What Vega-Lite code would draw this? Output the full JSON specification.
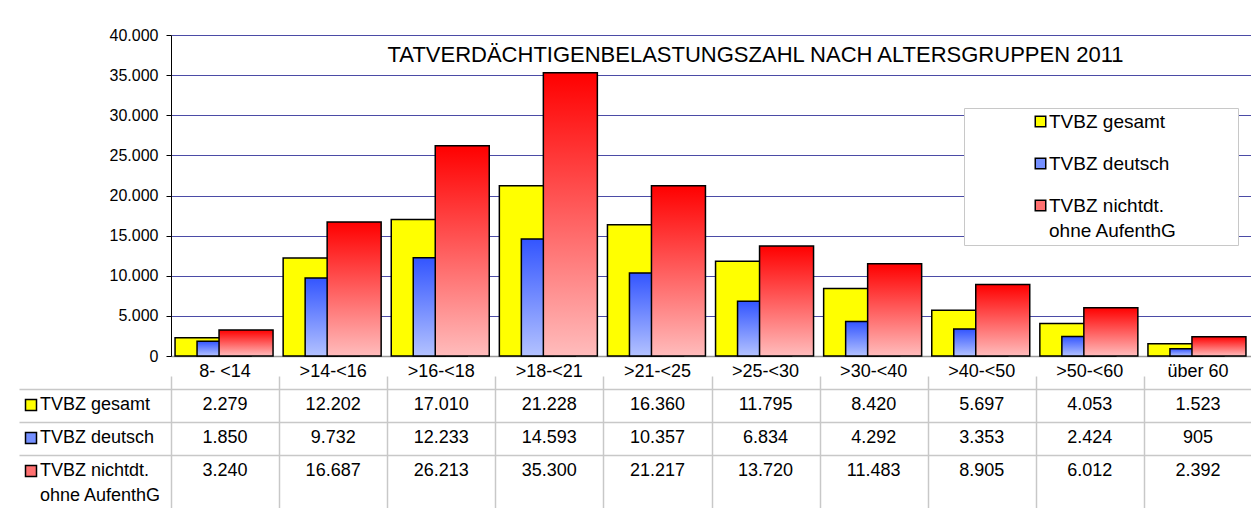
{
  "$schema": "https://vega.github.io/schema/vega-lite/v6.json",
  "padding": {"left": 18, "top": 27, "right": 0, "bottom": 0},
  "background": "white",
  "spacing": 0,
  "bounds": "flush",
  "resolve": {"scale": {"color": "independent"}, "legend": {"color": "independent"}},
  "datasets": {
    "tvbz": [
      {"age": "8- <14", "gesamt": 2279, "deutsch": 1850, "nichtdt": 3240},
      {"age": ">14-<16", "gesamt": 12202, "deutsch": 9732, "nichtdt": 16687},
      {"age": ">16-<18", "gesamt": 17010, "deutsch": 12233, "nichtdt": 26213},
      {"age": ">18-<21", "gesamt": 21228, "deutsch": 14593, "nichtdt": 35300},
      {"age": ">21-<25", "gesamt": 16360, "deutsch": 10357, "nichtdt": 21217},
      {"age": ">25-<30", "gesamt": 11795, "deutsch": 6834, "nichtdt": 13720},
      {"age": ">30-<40", "gesamt": 8420, "deutsch": 4292, "nichtdt": 11483},
      {"age": ">40-<50", "gesamt": 5697, "deutsch": 3353, "nichtdt": 8905},
      {"age": ">50-<60", "gesamt": 4053, "deutsch": 2424, "nichtdt": 6012},
      {"age": "über 60", "gesamt": 1523, "deutsch": 905, "nichtdt": 2392}
    ]
  },
  "config": {
    "locale": {"number": {"decimal": ",", "thousands": ".", "grouping": [3], "currency": ["", " €"]}},
    "font": "Liberation Sans",
    "view": {"stroke": null},
    "axis": {"labelFont": "Liberation Sans", "labelColor": "#000"},
    "legend": {"labelFont": "Liberation Sans", "labelColor": "#000"},
    "style": {"guide-label": {"lineHeight": 25}}
  },
  "vconcat": [
    {
      "width": 1081,
      "height": 321,
      "title": {"text": "TATVERDÄCHTIGENBELASTUNGSZAHL NACH ALTERSGRUPPEN 2011", "fontSize": 22, "fontWeight": "normal", "font": "Liberation Sans", "color": "#000", "anchor": "middle", "dx": 44, "dy": 40, "offset": 0},
      "data": {"name": "tvbz"},
      "encoding": {
        "x": {"field": "age", "type": "nominal", "sort": null,
              "scale": {"type": "band", "paddingInner": 0, "paddingOuter": 0},
              "axis": {"title": null, "labels": false, "ticks": false, "domain": true, "domainColor": "#999", "domainWidth": 1.5, "grid": false}}
      },
      "layer": [
        {
          "mark": {"type": "bar", "width": 54, "xOffset": -23, "stroke": "#000", "strokeWidth": 1.5, "fill": "#ffff00"},
          "encoding": {
            "y": {"field": "gesamt", "type": "quantitative", "scale": {"domain": [0, 40000]},
                  "axis": {"title": null, "values": [0, 5000, 10000, 15000, 20000, 25000, 30000, 35000, 40000], "format": ",d",
                           "grid": true, "gridColor": "#4b4ba6", "gridWidth": 1, "domainColor": "#000", "domainWidth": 1,
                           "tickColor": "#000", "tickSize": 5, "labelFontSize": 16, "labelPadding": 8}},
            "color": {"datum": "TVBZ gesamt", "type": "nominal",
                      "scale": {"domain": ["TVBZ gesamt", "TVBZ deutsch", "TVBZ nichtdt. ohne AufenthG"],
                                "range": ["#ffff00", "#7590ff", "#ff7070"]},
                      "legend": {"orient": "none", "legendX": 793, "legendY": 73, "direction": "vertical",
                                 "title": " ", "titleOrient": "right", "titlePadding": 57,
                                 "padding": 4, "fillColor": "#fff", "strokeColor": "#c8c8c8",
                                 "symbolType": "square", "symbolSize": 110, "symbolStrokeColor": "#000", "symbolStrokeWidth": 1.5,
                                 "symbolOffset": 63, "labelOffset": -1, "labelFontSize": 19, "labelLimit": 300, "rowPadding": 22,
                                 "labelExpr": "datum.label == 'TVBZ nichtdt. ohne AufenthG' ? ['TVBZ nichtdt.', 'ohne AufenthG'] : datum.label"}}
          }
        },
        {
          "mark": {"type": "bar", "width": 54, "xOffset": -1, "stroke": "#000", "strokeWidth": 1.5,
                   "fill": {"gradient": "linear", "x1": 0, "y1": 0, "x2": 0, "y2": 1, "stops": [{"offset": 0, "color": "#3355ff"}, {"offset": 1, "color": "#b3c2ff"}]}},
          "encoding": {
            "y": {"field": "deutsch", "type": "quantitative"},
            "color": {"datum": "TVBZ deutsch", "type": "nominal"}
          }
        },
        {
          "mark": {"type": "bar", "width": 54, "xOffset": 21, "stroke": "#000", "strokeWidth": 1.5,
                   "fill": {"gradient": "linear", "x1": 0, "y1": 0, "x2": 0, "y2": 1, "stops": [{"offset": 0, "color": "#ff0000"}, {"offset": 1, "color": "#ffbcbc"}]}},
          "encoding": {
            "y": {"field": "nichtdt", "type": "quantitative"},
            "color": {"datum": "TVBZ nichtdt. ohne AufenthG", "type": "nominal"}
          }
        }
      ]
    },
    {
      "width": 1081,
      "height": 152,
      "data": {"name": "tvbz"},
      "encoding": {
        "x": {"field": "age", "type": "nominal", "sort": null,
              "scale": {"type": "band", "paddingInner": 0, "paddingOuter": 0},
              "axis": {"title": null, "labels": false, "ticks": false, "domain": false, "grid": true, "tickBand": "extent", "gridColor": "#c8c8c8", "gridWidth": 1.5}}
      },
      "layer": [
        {
          "mark": {"type": "text", "fontSize": 18, "baseline": "middle", "dy": -1, "color": "#000"},
          "encoding": {
            "y": {"datum": "Altersgruppe", "type": "nominal",
                  "scale": {"type": "band", "domain": ["Altersgruppe", "TVBZ gesamt", "TVBZ deutsch", "TVBZ nichtdt. ohne AufenthG"], "range": [0, 132], "paddingInner": 0, "paddingOuter": 0},
                  "axis": {"title": null, "orient": "left", "tickBand": "extent", "tickSize": 152, "tickWidth": 1.5,
                           "tickColor": {"condition": {"test": "datum.value === 'Altersgruppe' || datum.value === 'TVBZ gesamt' || datum.value === 'TVBZ deutsch'", "value": "#c8c8c8"}, "value": "transparent"},
                           "grid": true, "gridWidth": 1.5,
                           "gridColor": {"condition": {"test": "datum.value === 'Altersgruppe' || datum.value === 'TVBZ gesamt' || datum.value === 'TVBZ deutsch'", "value": "#c8c8c8"}, "value": "transparent"},
                           "domain": false, "labels": false}},
            "text": {"field": "age", "type": "nominal"}
          }
        },
        {
          "mark": {"type": "text", "fontSize": 18, "baseline": "middle", "dy": -1, "color": "#000"},
          "encoding": {
            "y": {"datum": "TVBZ gesamt", "type": "nominal"},
            "text": {"field": "gesamt", "type": "quantitative", "format": ",d"}
          }
        },
        {
          "mark": {"type": "text", "fontSize": 18, "baseline": "middle", "dy": -1, "color": "#000"},
          "encoding": {
            "y": {"datum": "TVBZ deutsch", "type": "nominal"},
            "text": {"field": "deutsch", "type": "quantitative", "format": ",d"}
          }
        },
        {
          "mark": {"type": "text", "fontSize": 18, "baseline": "middle", "dy": -1, "color": "#000"},
          "encoding": {
            "y": {"datum": "TVBZ nichtdt. ohne AufenthG", "type": "nominal"},
            "text": {"field": "nichtdt", "type": "quantitative", "format": ",d"}
          }
        },
        {
          "mark": {"type": "point", "shape": "square", "filled": true, "size": 121, "stroke": "#000", "strokeWidth": 1.5, "clip": true, "yOffset": 2000},
          "encoding": {
            "color": {"datum": "TVBZ gesamt", "type": "nominal",
                     "scale": {"domain": ["TVBZ gesamt", "TVBZ deutsch", "TVBZ nichtdt. ohne AufenthG"],
                               "range": ["#ffff00", "#7590ff", "#ff7070"]},
                     "legend": {"orient": "none", "legendX": -149, "legendY": 40, "direction": "vertical", "title": null, "padding": 0,
                                "symbolType": "square", "symbolSize": 121, "symbolStrokeColor": "#000", "symbolStrokeWidth": 1.5, "symbolOpacity": 1,
                                "labelFontSize": 18, "labelOffset": 0, "labelLimit": 300, "rowPadding": 15,
                                "labelExpr": "datum.label == 'TVBZ nichtdt. ohne AufenthG' ? ['TVBZ nichtdt.', 'ohne AufenthG'] : datum.label"}}
          }
        }
      ]
    }
  ]
}
